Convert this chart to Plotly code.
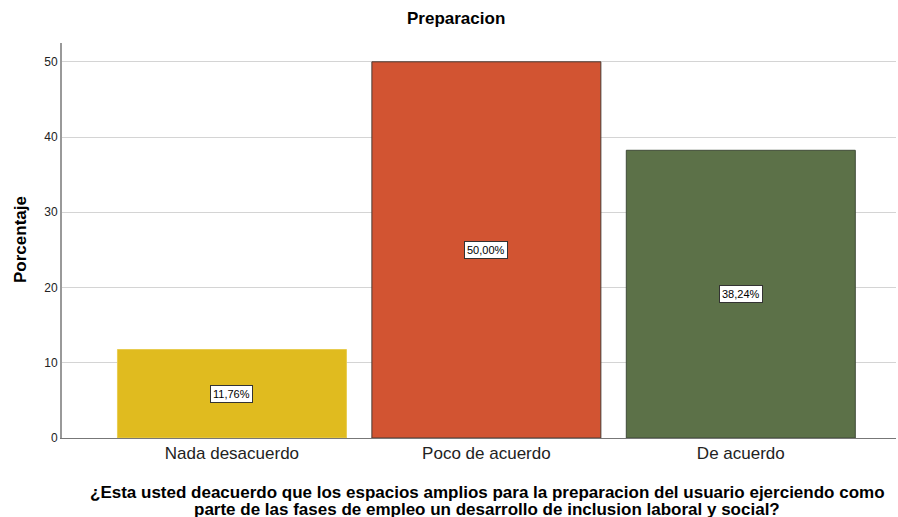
import plotly.graph_objects as go

categories = ["Nada desacuerdo", "Poco de acuerdo", "De acuerdo"]
values = [11.76, 50.00, 38.24]
labels = ["11,76%", "50,00%", "38,24%"]
colors = ["#E0BB1F", "#D25432", "#5C7148"]
outline = ["#E8CC50", "#4a3a33", "#3f4a37"]
yticks = [0, 10, 20, 30, 40, 50]
x_title_lines = [
    "¿Esta usted deacuerdo que los espacios amplios para la preparacion del usuario ejerciendo como",
    "parte de las fases de empleo un desarrollo de inclusion laboral y social?",
]

W, H = 898, 517
L, R, T, B = 62, 2, 43, 79

fig = go.Figure()
fig.add_trace(go.Bar(
    x=list(range(len(categories))), y=values, width=0.9,
    marker=dict(color=colors, line=dict(color=outline, width=1)),
    hoverinfo="skip",
))
for i, (v, t) in enumerate(zip(values, labels)):
    fig.add_annotation(x=i, y=v / 2, text=t, showarrow=False,
                       font=dict(family="Arial, Liberation Sans", size=11, color="#000"),
                       bgcolor="white", bordercolor="#333", borderwidth=1, borderpad=2)

def px(x):
    return (x - L) / (W - L - R)
def py(y):
    return (H - B - y) / (H - T - B)

fig.add_annotation(xref="paper", yref="paper", x=px(455.5), y=py(18), text="<b>Preparacion</b>",
                   showarrow=False, xanchor="center", yanchor="middle",
                   font=dict(size=17, color="#000"))
fig.add_annotation(xref="paper", yref="paper", x=px(20), y=py(240), text="<b>Porcentaje</b>",
                   showarrow=False, xanchor="center", yanchor="middle", textangle=-90,
                   font=dict(size=17, color="#000"))
for line, yc in zip(x_title_lines, [492, 509]):
    fig.add_annotation(xref="paper", yref="paper", x=px(487), y=py(yc),
                       text="<b>" + line + "</b>",
                       showarrow=False, xanchor="center", yanchor="middle",
                       font=dict(size=17, color="#000"))

fig.update_layout(
    width=W, height=H,
    margin=dict(l=L, r=R, t=T, b=B),
    plot_bgcolor="white", paper_bgcolor="white",
    showlegend=False,
    font=dict(family="Arial, Liberation Sans"),
    xaxis=dict(range=[-0.668, 2.61], tickvals=list(range(len(categories))), ticktext=categories,
               tickfont=dict(size=17, color="#222"), showline=True, linecolor="#777", linewidth=1,
               ticks="", showgrid=False, zeroline=False),
    yaxis=dict(range=[0, 52.5], tickvals=yticks, tickfont=dict(size=12, color="#222"),
               showline=True, linecolor="#999", linewidth=2, ticks="", showgrid=True,
               gridcolor="#d4d4d4", gridwidth=1, zeroline=False),
)
fig.write_html("out.html", config={"displayModeBar": False})

with open("out.html", encoding="utf-8") as f:
    html = f.read()
html = html.replace("<body>", '<body style="margin:0;padding:0;overflow:hidden">', 1)
with open("out.html", "w", encoding="utf-8") as f:
    f.write(html)
